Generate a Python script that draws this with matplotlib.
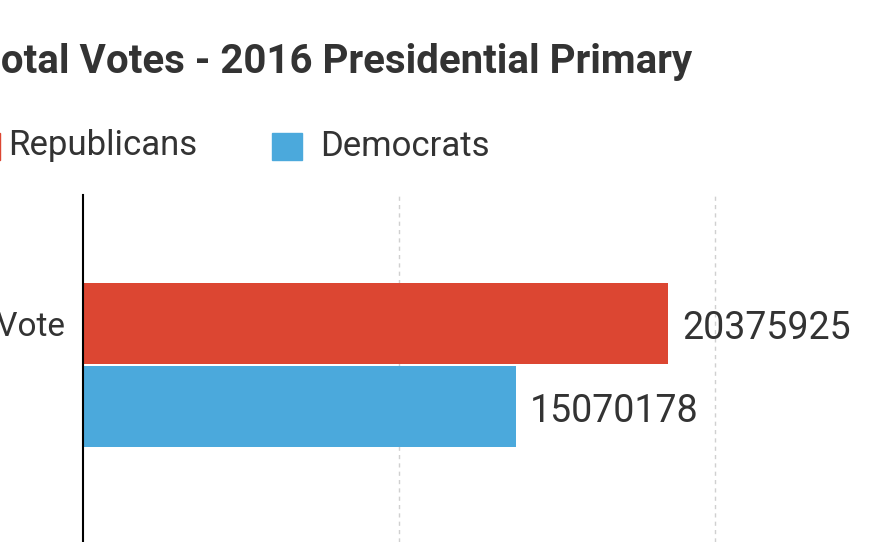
import matplotlib.pyplot as plt
from matplotlib.patches import Rectangle

# data
categories = ["Total Vote"]
republicans = [20375925]
democrats = [15070178]
grid_ticks = [11.0e6, 22.0e6]

RED = "#DC4632"
BLUE = "#4BA9DC"
FONT = "Roboto"

fig = plt.figure(figsize=(8.8, 5.42), dpi=100)
ax = fig.add_axes([83 / 880, 0, 797 / 880, 347 / 542])

ax.barh([0.25], republicans, height=0.49, color=RED)
ax.barh([-0.25], democrats, height=0.49, color=BLUE)

ax.set_xlim(0, 797 * 34831)
ax.set_ylim(-1.066, 1.024)
ax.set_xticks(grid_ticks)
ax.set_xticklabels([])
ax.tick_params(axis="x", length=0)
ax.grid(axis="x", color="#d0d0d0", linestyle=(0, (3, 3)), linewidth=1)
ax.set_axisbelow(True)
ax.set_yticks([0.25])
ax.set_yticklabels(categories, fontfamily=FONT, fontsize=24, color="#333333")
ax.tick_params(axis="y", length=0, pad=13)
for s in ["top", "right", "bottom"]:
    ax.spines[s].set_visible(False)
ax.spines["left"].set_linewidth(1.5)

for y, v in [(0.25, republicans[0]), (-0.25, democrats[0])]:
    ax.text(v + 480000, y - 0.03, str(v), va="center", ha="left",
            fontfamily=FONT, fontsize=27, color="#333333")

fig.text(-0.027, 0.885, "Total Votes - 2016 Presidential Primary", ha="left", va="center",
         fontfamily=FONT, fontweight="bold", fontsize=29, color="#333333")

# legend
fig.patches.append(Rectangle((-30 / 880, 382 / 542), 30 / 880, 27 / 542,
                             transform=fig.transFigure, color=RED))
fig.patches.append(Rectangle((272 / 880, 382 / 542), 30 / 880, 27 / 542,
                             transform=fig.transFigure, color=BLUE))
fig.text(8 / 880, 396 / 542, "Republicans", ha="left", va="center",
         fontfamily=FONT, fontsize=25, color="#333333")
fig.text(320 / 880, 396 / 542, "Democrats", ha="left", va="center",
         fontfamily=FONT, fontsize=25, color="#333333")

fig.savefig("out.png", dpi=100)
